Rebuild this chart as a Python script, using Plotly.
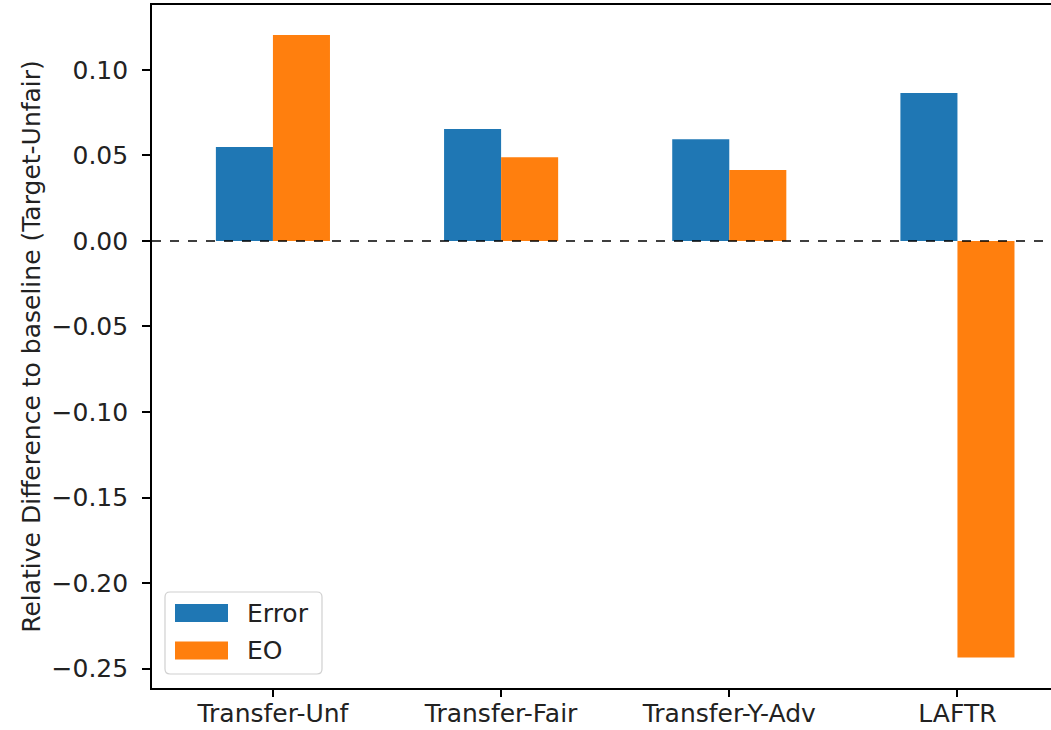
import plotly.graph_objects as go

categories = ["Transfer-Unf", "Transfer-Fair", "Transfer-Y-Adv", "LAFTR"]
error_vals = [0.055, 0.0655, 0.0595, 0.0865]
eo_vals = [0.1205, 0.049, 0.0415, -0.2435]
y_ticks = [0.10, 0.05, 0.00, -0.05, -0.10, -0.15, -0.20, -0.25]
series_names = ["Error", "EO"]
colors = ["#1f77b4", "#ff7f0e"]

W, H = 1051, 730
L, T, B, R = 152, 5, 42, 0
PW, PH = W - L - R, H - T - B
FONT = "DejaVu Sans"
FS = 25


def px(x):
    return (x - L) / PW


def py(y):
    return (H - B - y) / PH


fig = go.Figure()
for name, vals, col in zip(series_names, [error_vals, eo_vals], colors):
    fig.add_trace(go.Bar(x=categories, y=vals, name=name, marker=dict(color=col, line=dict(width=0)),
                         showlegend=False))

shapes = [
    # dashed baseline at zero
    dict(type="line", xref="paper", yref="y", x0=0, x1=1, y0=0, y1=0,
         line=dict(color="black", width=1.6, dash="dash")),
]

# legend frame
x0, x1, y0, y1, r = px(165), px(322), py(674), py(592), 5
rx, ry = r / PW, r / PH
path = (f"M {x0+rx},{y0} L {x1-rx},{y0} Q {x1},{y0} {x1},{y0+ry} L {x1},{y1-ry} Q {x1},{y1} {x1-rx},{y1} "
        f"L {x0+rx},{y1} Q {x0},{y1} {x0},{y1-ry} L {x0},{y0+ry} Q {x0},{y0} {x0+rx},{y0} Z")
shapes.append(dict(type="path", xref="paper", yref="paper", path=path,
                   fillcolor="rgba(255,255,255,0.8)", line=dict(color="#d0d0d0", width=1.2)))

annotations = []
for i, (name, col) in enumerate(zip(series_names, colors)):
    cy = 613 + i * 37.5
    shapes.append(dict(type="rect", xref="paper", yref="paper",
                       x0=px(175), x1=px(228), y0=py(cy + 9), y1=py(cy - 9),
                       fillcolor=col, line=dict(width=0)))
    annotations.append(dict(xref="paper", yref="paper", x=px(245), y=py(cy), text=name,
                            showarrow=False, xanchor="left", yanchor="middle",
                            font=dict(family=FONT, size=FS, color="#222")))

fig.update_layout(
    width=W, height=H,
    margin=dict(l=L, r=R, t=T, b=B, autoexpand=False),
    paper_bgcolor="white", plot_bgcolor="white",
    barmode="group", bargap=0.5, bargroupgap=0,
    font=dict(family=FONT, size=FS, color="#222"),
    shapes=shapes, annotations=annotations,
    xaxis=dict(range=[-0.53, 3.41], showline=True, linecolor="black", linewidth=1.6, mirror=True,
               ticks="outside", ticklen=7, tickwidth=1.6, tickcolor="black", showgrid=False,
               zeroline=False, ticklabelstandoff=-5, automargin=False,
               tickfont=dict(family=FONT, size=FS, color="#222")),
    yaxis=dict(range=[-0.2614, 0.138], showline=True, linecolor="black", linewidth=1.6,
               ticks="outside", ticklen=8, tickwidth=1.6, tickcolor="black", showgrid=False,
               zeroline=False, tickvals=y_ticks, ticklabelstandoff=9, automargin=False,
               ticktext=[f"{v:.2f}".replace("-", "\u2212") for v in y_ticks],
               tickfont=dict(family=FONT, size=FS, color="#222"),
               title=dict(text="Relative Difference to baseline (Target-Unfair)", standoff=4,
                          font=dict(family=FONT, size=FS, color="#222"))),
)

fig.write_html("out.html")
